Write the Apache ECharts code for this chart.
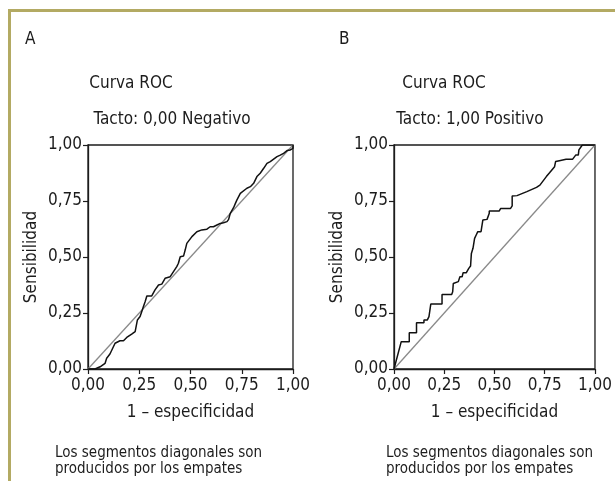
<!DOCTYPE html>
<html>
<head>
<meta charset="utf-8">
<script src="https://cdn.jsdelivr.net/npm/echarts@6/dist/echarts.min.js"></script>
<style>
  html, body { margin: 0; padding: 0; background: #fff; }
  #chart { width: 615px; height: 481px; }
</style>
</head>
<body>
<div id="chart"></div>
<script>
// curva ROC, tacto negativo (panel A): [1 - especificidad, sensibilidad]
const curvaNegativo = [
  [0, 0], [0.034, 0], [0.059, 0.010], [0.083, 0.025], [0.091, 0.048], [0.107, 0.067],
  [0.132, 0.115], [0.156, 0.126], [0.173, 0.126], [0.189, 0.141], [0.213, 0.156],
  [0.230, 0.167], [0.238, 0.174], [0.241, 0.219], [0.254, 0.234], [0.262, 0.256],
  [0.270, 0.278], [0.279, 0.301], [0.287, 0.326], [0.311, 0.326], [0.327, 0.353],
  [0.344, 0.375], [0.360, 0.379], [0.376, 0.405], [0.401, 0.412], [0.417, 0.435],
  [0.433, 0.457], [0.441, 0.472], [0.450, 0.501], [0.466, 0.504], [0.474, 0.531],
  [0.482, 0.561], [0.490, 0.564], [0.507, 0.591], [0.531, 0.613], [0.555, 0.621],
  [0.580, 0.624], [0.596, 0.635], [0.612, 0.635], [0.629, 0.643], [0.645, 0.650],
  [0.661, 0.653], [0.678, 0.658], [0.686, 0.668], [0.694, 0.695], [0.710, 0.720],
  [0.718, 0.737], [0.726, 0.754], [0.743, 0.784], [0.775, 0.807], [0.792, 0.814],
  [0.808, 0.829], [0.824, 0.859], [0.840, 0.874], [0.857, 0.896], [0.873, 0.918],
  [0.889, 0.926], [0.922, 0.948], [0.938, 0.955], [0.954, 0.963], [0.971, 0.975],
  [0.987, 0.978], [1, 0.985], [1, 1]
];
// curva ROC, tacto positivo (panel B)
const curvaPositivo = [
  [0, 0], [0.036, 0.122], [0.076, 0.122], [0.076, 0.162], [0.112, 0.162], [0.112, 0.207],
  [0.149, 0.207], [0.149, 0.219], [0.166, 0.219], [0.174, 0.234], [0.183, 0.241],
  [0.183, 0.290], [0.239, 0.290], [0.239, 0.333], [0.287, 0.333], [0.292, 0.345],
  [0.295, 0.382], [0.320, 0.390], [0.328, 0.412], [0.339, 0.412], [0.344, 0.430],
  [0.360, 0.430], [0.372, 0.449], [0.381, 0.460], [0.385, 0.516], [0.393, 0.539],
  [0.401, 0.583], [0.409, 0.598], [0.417, 0.613], [0.433, 0.613], [0.442, 0.665],
  [0.463, 0.668], [0.474, 0.695], [0.474, 0.705], [0.523, 0.705], [0.531, 0.717],
  [0.580, 0.717], [0.588, 0.728], [0.588, 0.772], [0.612, 0.774], [0.661, 0.792],
  [0.709, 0.811], [0.726, 0.821], [0.734, 0.829], [0.758, 0.859], [0.774, 0.876],
  [0.799, 0.903], [0.804, 0.926], [0.823, 0.930], [0.856, 0.936], [0.888, 0.936],
  [0.904, 0.955], [0.917, 0.955], [0.920, 0.978], [0.937, 1.0], [1, 1]
];
// linea de referencia
const diagonal = [[0, 0], [1, 1]];
const tickLabels = ["0,00", "0,25", "0,50", "0,75", "1,00"];

const FONT = "'Liberation Sans Narrow', 'DejaVu Sans Condensed', 'Roboto', sans-serif";
const INK = "#1c1c1c";
const chart = echarts.init(document.getElementById("chart"));

function ejeX(idx) {
  return {
    gridIndex: idx,
    type: "value",
    min: 0, max: 1, interval: 0.25,
    name: "1 – especificidad",
    nameLocation: "middle",
    nameGap: 35,
    nameTextStyle: { color: INK, fontSize: 17, fontFamily: FONT },
    axisLine: { show: true, lineStyle: { color: INK, width: 1.3 } },
    axisTick: { show: true, length: 5, lineStyle: { color: INK, width: 1.2 } },
    axisLabel: {
      color: INK, fontSize: 17, fontFamily: FONT, margin: 8,
      formatter: v => tickLabels[Math.round(v / 0.25)]
    },
    splitLine: { show: false }
  };
}
function ejeY(idx) {
  return {
    gridIndex: idx,
    type: "value",
    min: 0, max: 1, interval: 0.25,
    name: "Sensibilidad",
    nameLocation: "middle",
    nameRotate: 90,
    nameGap: 48,
    nameTextStyle: { color: INK, fontSize: 17, fontFamily: FONT },
    axisLine: { show: true, lineStyle: { color: INK, width: 1.3 } },
    axisTick: { show: true, length: 5, lineStyle: { color: INK, width: 1.2 } },
    axisLabel: {
      color: INK, fontSize: 17, fontFamily: FONT, margin: 6,
      formatter: v => tickLabels[Math.round(v / 0.25)]
    },
    splitLine: { show: false }
  };
}
function texto(x, y, t, size, align) {
  return {
    type: "text", x: x, y: y,
    style: { text: t, fill: INK, font: size + "px " + FONT, textAlign: align || "left", textVerticalAlign: "middle" }
  };
}

chart.setOption({
  animation: false,
  grid: [
    { left: 88, top: 145, width: 205, height: 224, show: true, borderColor: INK, borderWidth: 1.3 },
    { left: 394, top: 145, width: 206, height: 224, show: true, borderColor: INK, borderWidth: 1.3 }
  ],
  xAxis: [ejeX(0), ejeX(1)],
  yAxis: [ejeY(0), ejeY(1)],
  graphic: [
    // marco
    { type: "line", shape: { x1: 8, y1: 10.5, x2: 615, y2: 10.5 }, style: { stroke: "#b3aa63", lineWidth: 3 } },
    { type: "line", shape: { x1: 9.5, y1: 9, x2: 9.5, y2: 481 }, style: { stroke: "#b3aa63", lineWidth: 3 } },
    texto(25, 40, "A", 17),
    texto(131, 84, "Curva ROC", 17, "center"),
    texto(172, 120, "Tacto: 0,00 Negativo", 17, "center"),
    texto(55, 453, "Los segmentos diagonales son", 15),
    texto(55, 469, "producidos por los empates", 15),
    texto(339, 40, "B", 17),
    texto(444, 84, "Curva ROC", 17, "center"),
    texto(470, 120, "Tacto: 1,00 Positivo", 17, "center"),
    texto(386, 453, "Los segmentos diagonales son", 15),
    texto(386, 469, "producidos por los empates", 15)
  ],
  series: [
    { type: "line", xAxisIndex: 0, yAxisIndex: 0, data: diagonal, showSymbol: false, silent: true,
      lineStyle: { color: "#8a8a8a", width: 1.3 } },
    { type: "line", xAxisIndex: 0, yAxisIndex: 0, data: curvaNegativo, showSymbol: false,
      lineStyle: { color: "#111", width: 1.5 } },
    { type: "line", xAxisIndex: 1, yAxisIndex: 1, data: diagonal, showSymbol: false, silent: true,
      lineStyle: { color: "#8a8a8a", width: 1.3 } },
    { type: "line", xAxisIndex: 1, yAxisIndex: 1, data: curvaPositivo, showSymbol: false,
      lineStyle: { color: "#111", width: 1.5 } }
  ]
});
</script>
</body>
</html>
